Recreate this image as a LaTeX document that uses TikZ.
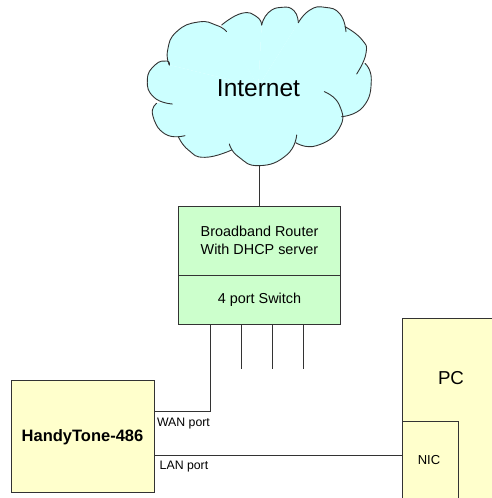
\documentclass[tikz,border=0pt]{standalone}
\usepackage{fontspec}
\setmainfont{Liberation Sans}
\definecolor{cloudfill}{HTML}{CCFFFF}
\definecolor{greenfill}{HTML}{CCFFCC}
\definecolor{yellowfill}{HTML}{FFFFCC}
\definecolor{edge}{HTML}{333333}
\tikzset{
  boxshape/.style={draw=edge,line width=0.9pt,rectangle,inner sep=0pt,outer sep=0pt,anchor=north west},
  greenbox/.style={boxshape,fill=greenfill},
  yellowbox/.style={boxshape,fill=yellowfill},
  wire/.style={draw=edge,line width=0.9pt},
  cloudline/.style={draw=edge,line width=0.9pt,line join=round,line cap=round},
  caption/.style={text=black,inner sep=0pt,align=center},
  small/.style={caption,font=\fontsize{12.3}{15}\selectfont},
  mid/.style={caption,font=\fontsize{14.4}{17.5}\selectfont}
}
\newcommand{\lobeA}{plot[smooth,tension=.9] coordinates {(118,195) (113,150) (140,95) (205,66) (260,76) (290,95)}}
\newcommand{\lobeB}{plot[smooth,tension=.9] coordinates {(275,75) (335,40) (380,50) (395,75)}}
\newcommand{\lobeC}{plot[smooth,tension=.9] coordinates {(395,75) (415,38) (455,22) (492,32) (505,68)}}
\newcommand{\lobeD}{plot[smooth,tension=.9] coordinates {(505,68) (540,30) (585,22) (630,42) (648,95)}}
\newcommand{\lobeE}{plot[smooth,tension=.9] coordinates {(645,80) (695,118) (708,160) (680,222)}}
\newcommand{\lobeF}{plot[smooth,tension=.9] coordinates {(705,190) (724,240) (700,320) (635,350)}}
\newcommand{\lobeG}{plot[smooth,tension=.9] coordinates {(583,275) (628,315) (628,385) (560,437) (497,428)}}
\newcommand{\lobeH}{plot[smooth,tension=.9] coordinates {(500,405) (470,465) (388,497) (325,470) (298,432)}}
\newcommand{\lobeI}{plot[smooth,tension=.9] coordinates {(305,450) (225,472) (175,450) (145,410)}}
\newcommand{\lobeJ}{plot[smooth,tension=.9] coordinates {(165,407) (105,402) (68,345) (80,310)}}
\newcommand{\lobeK}{plot[smooth,tension=.9] coordinates {(127,312) (72,292) (52,240) (75,195) (110,183) (118,195)}}
\begin{document}
\begin{tikzpicture}[x=1pt,y=-1pt]
\clip (0,0) rectangle (492,498);
\fill[white] (0,0) rectangle (492,498);
\coordinate (cloudbottom) at (259.7,165);
% cloud
\begin{scope}[xshift=130pt,x=0.3333pt,y=-0.3333pt]
  \foreach \p in {\lobeA,\lobeB,\lobeC,\lobeD,\lobeE,\lobeF,\lobeG,\lobeH,\lobeI,\lobeJ,\lobeK}{\fill[cloudfill] \p -- (385,260) -- cycle;}
  \foreach \p in {\lobeA,\lobeB,\lobeC,\lobeD,\lobeE,\lobeF,\lobeG,\lobeH,\lobeI,\lobeJ,\lobeK}{\draw[cloudline] \p;}
\end{scope}
\node[caption,font=\fontsize{24.5}{28}\selectfont] (internet) at (258.5,88.5) {Internet};
% router
\node[greenbox,minimum width=161.3pt,minimum height=68.3pt] (router) at (178.7,206.7) {};
\node[greenbox,minimum width=161.3pt,minimum height=49.7pt] (switch) at (178.7,275) {};
\node[mid] (routertext) at (259.5,240.5) {Broadband Router\\With DHCP server};
\node[mid] (switchtext) at (259.5,299.5) {4 port Switch};
\draw[wire] (cloudbottom) -- (router.north -| cloudbottom);
% switch ports
\coordinate (wanbend) at (210,411.7);
\coordinate (p2) at (241,368.7);
\coordinate (p3) at (272,368.7);
\coordinate (p4) at (303,368.7);
\draw[wire] (p2 |- switch.south) -- (p2);
\draw[wire] (p3 |- switch.south) -- (p3);
\draw[wire] (p4 |- switch.south) -- (p4);
% devices
\node[yellowbox,minimum width=143pt,minimum height=112pt] (handy) at (11,380.7) {};
\node[caption,font=\bfseries\fontsize{16.5}{20}\selectfont] (handytext) at (82.5,437) {HandyTone-486};
\node[yellowbox,minimum width=110pt,minimum height=200pt] (pc) at (402.3,318.7) {};
\node[caption,font=\fontsize{18.7}{22}\selectfont] (pctext) at (451,378) {PC};
\node[yellowbox,minimum width=55.7pt,minimum height=100pt] (nic) at (402.3,421.3) {};
\node[small,font=\fontsize{13}{15}\selectfont] (nictext) at (429,460.5) {NIC};
\draw[wire] (wanbend |- switch.south) -- (wanbend) -- (wanbend -| handy.east);
\draw[wire] (handy.east |- 0,455.7) -- (nic.west |- 0,455.7);
\node[small] (wan) at (183.5,423.5) {WAN port};
\node[small] (lan) at (184,467) {LAN port};
\end{tikzpicture}
\end{document}
